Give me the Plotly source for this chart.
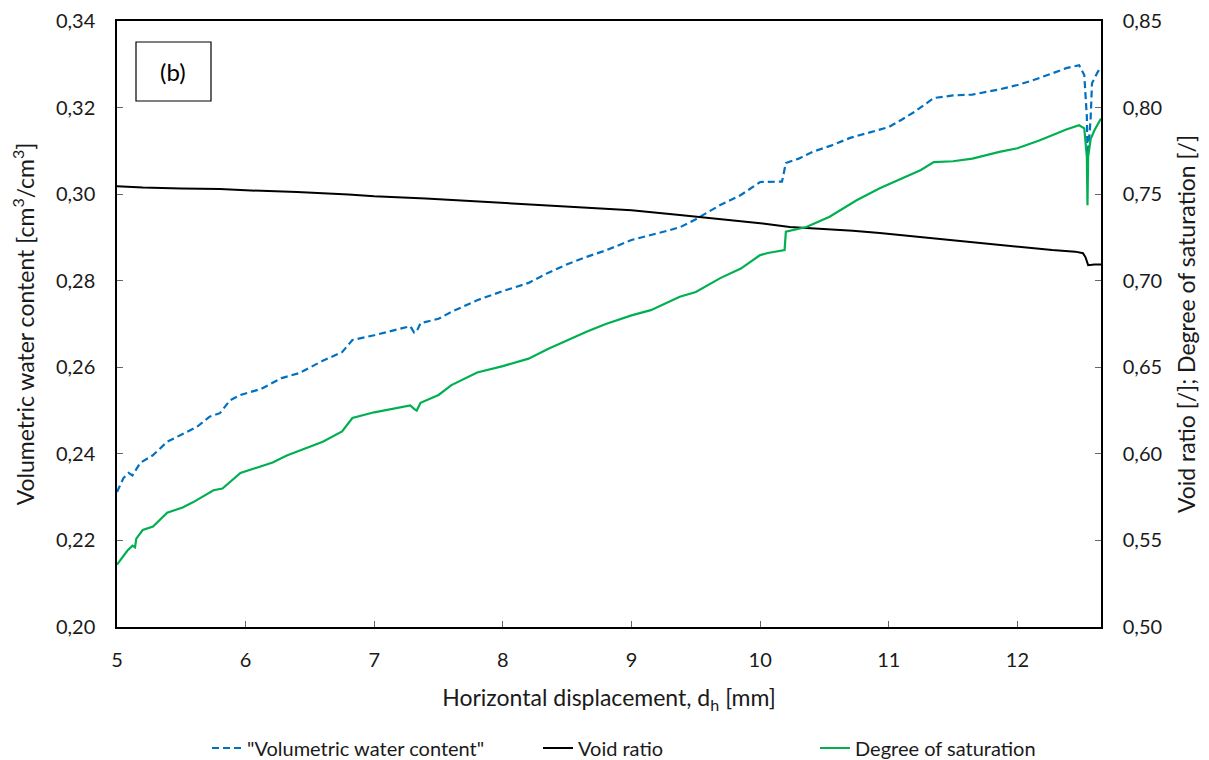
import plotly.graph_objects as go

# volumetric water content (left axis)
vwc_x = [5.0, 5.05, 5.09, 5.12, 5.18, 5.28, 5.39, 5.49, 5.62, 5.72, 5.8, 5.88, 5.96, 6.12, 6.28, 6.42,
         6.6, 6.75, 6.83, 7.0, 7.15, 7.28, 7.31, 7.33, 7.36, 7.5, 7.6, 7.8, 8.0, 8.2, 8.35, 8.5, 8.65,
         8.8, 9.0, 9.15, 9.3, 9.38, 9.5, 9.69, 9.85, 10.0, 10.1, 10.17, 10.2, 10.3, 10.41, 10.55,
         10.7, 10.85, 11.0, 11.1, 11.2, 11.35, 11.5, 11.65, 11.86, 12.0, 12.12, 12.27, 12.38, 12.48,
         12.52, 12.54, 12.545, 12.56, 12.57, 12.58, 12.62, 12.65]
vwc_y = [0.2312, 0.2344, 0.2356, 0.235, 0.2379, 0.2397, 0.2428, 0.2443, 0.2462, 0.2486, 0.2494,
         0.2524, 0.2536, 0.255, 0.2575, 0.2587, 0.2615, 0.2635, 0.2663, 0.2674, 0.2685, 0.2695,
         0.268, 0.2683, 0.2702, 0.2712, 0.2728, 0.2755, 0.2776, 0.2795, 0.2818, 0.2838, 0.2855,
         0.287, 0.2894, 0.2905, 0.2917, 0.2924, 0.2942, 0.2975, 0.2998, 0.3028, 0.3029, 0.3029,
         0.3072, 0.3082, 0.3098, 0.3112, 0.313, 0.3142, 0.3155, 0.3172, 0.319, 0.3222, 0.3228,
         0.323, 0.3242, 0.3252, 0.3263, 0.3279, 0.3291, 0.3298, 0.3275, 0.3179, 0.309, 0.3135,
         0.3179, 0.3256, 0.328, 0.3294]

# void ratio (right axis)
void_x = [5.0, 5.2, 5.5, 5.8, 6.0, 6.4, 6.8, 7.0, 7.4, 7.8, 8.0, 8.4, 8.8, 9.0, 9.375, 9.76,
          10.02, 10.23, 10.41, 10.72, 10.93, 11.2, 11.5, 11.86, 12.0, 12.27, 12.45, 12.51, 12.53,
          12.55, 12.6, 12.65]
void_y = [0.7546, 0.7538, 0.7532, 0.7529, 0.7522, 0.7513, 0.7498, 0.7488, 0.7475, 0.7458, 0.7448,
          0.7432, 0.7415, 0.7407, 0.7379, 0.735, 0.733, 0.731, 0.7303, 0.7288, 0.7275, 0.7255,
          0.7234, 0.7205, 0.7198, 0.7177, 0.7168, 0.7159, 0.7135, 0.709, 0.7094, 0.7094]

# degree of saturation (right axis)
sat_x = [5.0, 5.02, 5.08, 5.12, 5.14, 5.15, 5.2, 5.28, 5.39, 5.51, 5.59, 5.75, 5.82, 5.96, 6.09,
         6.21, 6.32, 6.42, 6.6, 6.75, 6.83, 7.0, 7.15, 7.28, 7.31, 7.33, 7.36, 7.5, 7.6, 7.8, 8.0,
         8.2, 8.35, 8.5, 8.65, 8.8, 9.0, 9.15, 9.375, 9.5, 9.69, 9.85, 10.0, 10.06, 10.19, 10.2,
         10.36, 10.54, 10.75, 10.93, 11.1, 11.25, 11.35, 11.5, 11.65, 11.86, 12.0, 12.17, 12.38,
         12.48, 12.52, 12.54, 12.545, 12.55, 12.57, 12.6, 12.65]
sat_y = [0.536, 0.538, 0.544, 0.547, 0.546, 0.551, 0.556, 0.558, 0.566, 0.569, 0.572, 0.579, 0.58,
         0.589, 0.592, 0.595, 0.599, 0.602, 0.607, 0.613, 0.6207, 0.624, 0.626, 0.628, 0.626,
         0.625, 0.6295, 0.634, 0.6397, 0.647, 0.6507, 0.655, 0.6605, 0.6657, 0.6705, 0.675, 0.68,
         0.683, 0.6907, 0.6935, 0.7015, 0.707, 0.7148, 0.716, 0.7177, 0.7283, 0.731, 0.737, 0.7465,
         0.7534, 0.759, 0.764, 0.7685, 0.769, 0.7705, 0.7744, 0.7765, 0.781, 0.7873, 0.7898,
         0.788, 0.7715, 0.7436, 0.7715, 0.782, 0.787, 0.7937]

x_ticks = [5, 6, 7, 8, 9, 10, 11, 12]

fig = go.Figure()

fig.add_trace(go.Scatter(
    x=vwc_x, y=vwc_y, mode="lines", name='"Volumetric water content"', legend="legend",
    line=dict(color="#0070C0", width=2.2, dash="7px,4px"),
))
fig.add_trace(go.Scatter(
    x=void_x, y=void_y, mode="lines", name="Void ratio", yaxis="y2", legend="legend2",
    line=dict(color="black", width=2),
))
fig.add_trace(go.Scatter(
    x=sat_x, y=sat_y, mode="lines", name="Degree of saturation", yaxis="y2", legend="legend3",
    line=dict(color="#00B050", width=2.2),
))

font = "Lato, 'Open Sans', sans-serif"
W, H = 1201, 752  # page body adds 8px around the figure


def leg(px):
    return dict(orientation="h", xref="container", x=px / W, xanchor="left",
                yref="container", y=12 / H, yanchor="middle", font=dict(size=20))


axis_common = dict(showgrid=False, zeroline=False, automargin=False, showline=True,
                   linecolor="black", linewidth=1.5, ticks="inside", ticklen=6, tickcolor="#666")

fig.update_layout(
    width=W, height=H,
    margin=dict(l=109, r=108, t=13, b=133, autoexpand=False),
    plot_bgcolor="white", paper_bgcolor="white",
    separators=",.",
    showlegend=True,
    font=dict(family=font, size=20, color="#1a1a1a"),
    xaxis=dict(
        range=[5, 12.65], tickvals=x_ticks, mirror=True, ticklabelstandoff=14, **axis_common,
        title=dict(text="Horizontal displacement, d<sub>h</sub> [mm]", font=dict(size=23), standoff=20),
    ),
    yaxis=dict(
        range=[0.2, 0.34], dtick=0.02, tickformat=".2f", ticklabelstandoff=16, **axis_common,
        title=dict(text="Volumetric water content [cm<sup>3</sup>/cm<sup>3</sup>]", font=dict(size=23), standoff=20),
    ),
    yaxis2=dict(
        range=[0.5, 0.85], dtick=0.05, tickformat=".2f", overlaying="y", side="right",
        ticklabelstandoff=16, **axis_common,
        title=dict(text="Void ratio [/]; Degree of saturation [/]", font=dict(size=23), standoff=18),
    ),
    legend=leg(199),
    legend2=leg(530),
    legend3=leg(807),
    shapes=[dict(
        type="rect", xref="paper", yref="paper",
        x0=(136 - 117) / 984, x1=(211 - 117) / 984,
        y0=(627 - 101) / 606, y1=(627 - 42) / 606,
        line=dict(color="black", width=1.2), fillcolor="white",
    )],
    annotations=[dict(
        text="(b)", xref="paper", yref="paper", xanchor="center", yanchor="middle",
        x=(173 - 117) / 984, y=(627 - 72) / 606, showarrow=False,
        font=dict(size=24, color="black"),
    )],
)

fig.write_html("out.html")
